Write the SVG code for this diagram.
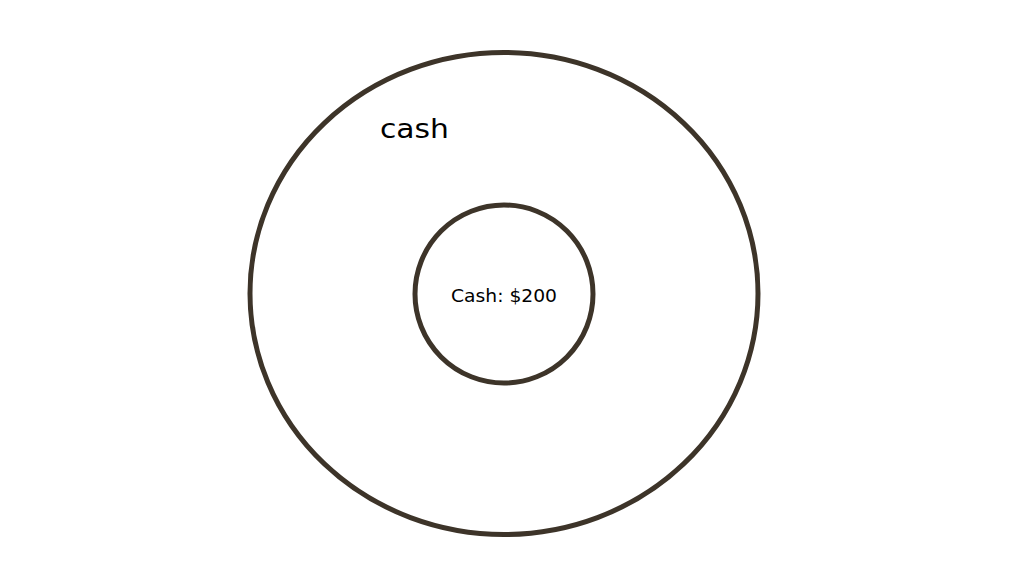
<svg xmlns="http://www.w3.org/2000/svg" width="1018" height="588" viewBox="0 0 1018 588">
<style>
.ring{fill:none;stroke:#3d3429;stroke-width:5}
.t{font-family:"DejaVu Sans","Lato",sans-serif;fill:#000}
</style>
<rect width="1018" height="588" fill="#fff"/>
<g id="outer">
<ellipse class="ring" cx="504" cy="293.5" rx="254" ry="241"/>
<text class="t" x="380" y="138" font-size="26" textLength="69" lengthAdjust="spacingAndGlyphs">cash</text>
</g>
<g id="inner">
<circle class="ring" cx="504" cy="294" r="89"/>
<text class="t" x="451" y="302" font-size="18" textLength="106" lengthAdjust="spacingAndGlyphs">Cash: $200</text>
</g>
<g id="connectors"></g>
</svg>
